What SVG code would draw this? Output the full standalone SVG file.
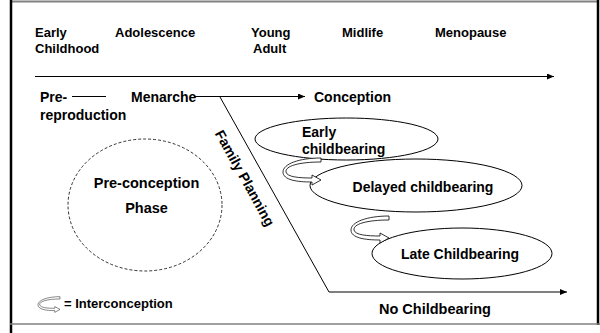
<svg xmlns="http://www.w3.org/2000/svg" width="600" height="333" viewBox="0 0 600 333">
<defs>
<style>
text{font-family:"Liberation Sans",Arial,sans-serif;font-weight:bold;fill:#000}
.top{font-size:13px}
.lbl{font-size:14px}
.ln{stroke:#000;stroke-width:1;fill:none}
.ell{fill:#fff;stroke:#000;stroke-width:1}
.loop{fill:#fff;stroke:#000;stroke-width:0.8;stroke-linejoin:round}
</style>
<marker id="ah" markerWidth="8" markerHeight="6" refX="7" refY="3" orient="auto" markerUnits="userSpaceOnUse">
<path d="M0,0 L7,3 L0,6 Z" fill="#000"/>
</marker>
<path id="loopicon" class="loop" d="M0,0 C-22,0 -36,4 -35,10 C-34,15 -22,16 -9,16 L-9,13 L0,18 L-9,23 L-9,20 C-24,20 -38,18 -38,10 C-38,2 -22,-4 0,-4 Z"/>
</defs>
<rect width="600" height="333" fill="#fff"/>
<g id="frame">
<line x1="10" y1="1.5" x2="597" y2="1.5" stroke="#808080" stroke-width="2"/>
<line x1="11" y1="0" x2="11" y2="333" stroke="#000" stroke-width="2.5"/>
<line x1="598" y1="0" x2="598" y2="325" stroke="#000" stroke-width="2.5"/>
<line x1="10" y1="324" x2="600" y2="324" stroke="#808080" stroke-width="1.5"/>
</g>
<g id="connectors">
<line class="ln" x1="35" y1="76.5" x2="554" y2="76.5" stroke-width="1.8" marker-end="url(#ah)"/>
<line class="ln" x1="72" y1="96.5" x2="106" y2="96.5"/>
<line class="ln" x1="194" y1="96.5" x2="305" y2="96.5" marker-end="url(#ah)"/>
<polyline class="ln" points="220,97 329,292 567,292" marker-end="url(#ah)"/>
</g>
<g id="timeline-labels">
<text class="top" x="35" y="37">Early</text>
<text class="top" x="35" y="53">Childhood</text>
<text class="top" x="115" y="37">Adolescence</text>
<text class="top" x="251" y="37">Young</text>
<text class="top" x="253" y="53">Adult</text>
<text class="top" x="342" y="37">Midlife</text>
<text class="top" x="435" y="37">Menopause</text>
</g>
<g id="prereproduction">
<text class="lbl" x="40" y="101.5">Pre-</text>
<text class="lbl" x="40" y="119.5">reproduction</text>
</g>
<g id="menarche"><text class="lbl" x="131" y="101.5">Menarche</text></g>
<g id="conception"><text class="lbl" x="314" y="101.5">Conception</text></g>
<g id="family-planning"><text class="lbl" text-anchor="middle" transform="translate(245,178) rotate(61)" y="5">Family Planning</text></g>
<g id="preconception">
<ellipse cx="145" cy="205" rx="77" ry="66" fill="none" stroke="#000" stroke-width="0.8" stroke-dasharray="3,2"/>
<text class="lbl" style="font-size:14.5px" text-anchor="middle" x="146.5" y="187.5">Pre-conception</text>
<text class="lbl" style="font-size:14.5px" text-anchor="middle" x="146.5" y="213">Phase</text>
</g>
<g id="early">
<ellipse class="ell" cx="346.5" cy="139" rx="91.5" ry="21"/>
<text class="lbl" x="302" y="137">Early</text>
<text class="lbl" x="302" y="154">childbearing</text>
</g>
<g id="delayed">
<ellipse class="ell" cx="416" cy="185.5" rx="106" ry="26.5"/>
<text class="lbl" text-anchor="middle" x="423" y="192">Delayed childbearing</text>
</g>
<g id="late">
<ellipse class="ell" cx="462" cy="253.5" rx="90" ry="25.5"/>
<text class="lbl" text-anchor="middle" x="460" y="259">Late Childbearing</text>
</g>
<g id="interconception-1"><use href="#loopicon" transform="translate(321,162)"/></g>
<g id="interconception-2"><use href="#loopicon" transform="translate(389,220)"/></g>
<g id="legend">
<use href="#loopicon" transform="translate(60,299) scale(0.58)"/>
<text class="lbl" style="font-size:13px" x="64" y="308">= Interconception</text>
</g>
<g id="no-childbearing"><text class="lbl" style="font-size:14.5px" text-anchor="middle" x="435" y="314">No Childbearing</text></g>
</svg>
